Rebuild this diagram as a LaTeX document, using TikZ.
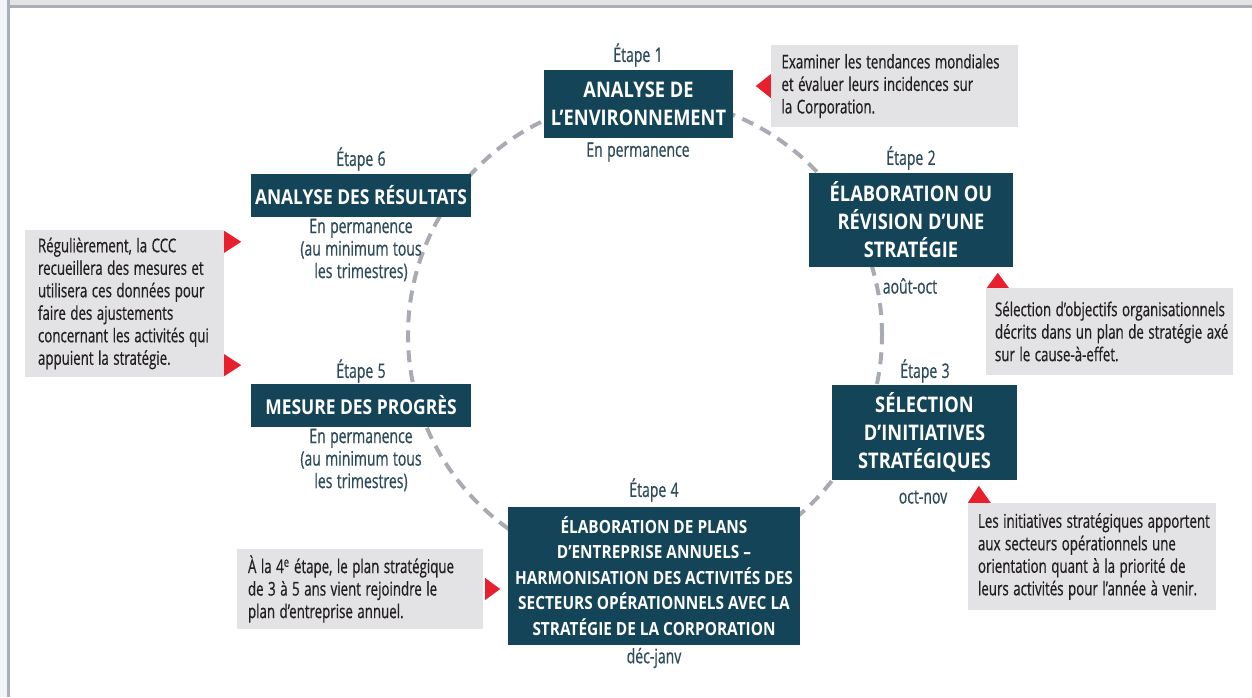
\documentclass[tikz,border=0pt]{standalone}
\usepackage{fontspec}
\setmainfont{Open Sans}[FakeStretch=0.85]
\newfontfamily\notefont{Open Sans}[FakeStretch=0.70, FakeBold=0.6, WordSpace=1.2]
\usetikzlibrary{calc}

\definecolor{boxteal}{HTML}{134458}
\definecolor{labelteal}{HTML}{2D4B5B}
\definecolor{notegray}{HTML}{E3E3E5}
\definecolor{notetext}{HTML}{231F20}
\definecolor{pointred}{HTML}{E8202E}
\definecolor{ringgray}{HTML}{A8ACB2}
\definecolor{bandgray}{HTML}{E2E3E5}
\definecolor{edgegray}{HTML}{A9AFB7}
\definecolor{sidestrip}{HTML}{F1F5FA}

% one unbreakable line of a note, with tighter word spaces
\newcommand\nl[1]{\mbox{\spaceskip=4.5pt\relax #1}}

\tikzset{
  stepbox/.style={fill=boxteal, text=white, inner sep=0pt, align=center,
    font=\bfseries\fontsize{21.5}{28}\selectfont},
  steplabel/.style={text=labelteal, inner sep=0pt, align=center,
    font=\notefont\fontsize{20}{22.5}\selectfont},
  note/.style={fill=notegray, text=notetext, align=left, inner ysep=0pt,
    font=\notefont\fontsize{19}{22.5}\selectfont},
  pointer/.style={fill=pointred},
  ring/.style={draw=ringgray, line width=4pt, dash pattern=on 12pt off 8pt},
}

\begin{document}
\begin{tikzpicture}[x=1pt, y=-1pt]
\useasboundingbox (0,0) rectangle (1252,697);

% page frame
\fill[sidestrip] (0,0) rectangle (7,697);
\fill[edgegray] (7,0) rectangle (10,697);
\fill[bandgray] (10,0) rectangle (1252,5);
\fill[edgegray] (10,5) rectangle (1252,8);

% the planning cycle
\draw[ring] (645,335) circle[radius=237pt];

% step 1
\node[steplabel] (e1) at (638,55) {Étape 1};
\node[stepbox, minimum width=189pt, minimum height=68pt] (s1) at (638.5,104)
  {ANALYSE DE\\L’ENVIRONNEMENT};
\node[steplabel] (d1) at (638,152) {En permanence};

% step 2
\node[steplabel] (e2) at (911,158) {Étape 2};
\node[stepbox, minimum width=204pt, minimum height=94pt] (s2) at (911,220)
  {ÉLABORATION OU\\RÉVISION D’UNE\\STRATÉGIE};
\node[steplabel] (d2) at (910,286) {août-oct};

% step 3
\node[steplabel] (e3) at (925,371) {Étape 3};
\node[stepbox, minimum width=185pt, minimum height=95pt] (s3) at (924.5,432.5)
  {SÉLECTION\\D’INITIATIVES\\STRATÉGIQUES};
\node[steplabel] (d3) at (923,497) {oct-nov};

% step 4
\node[steplabel] (e4) at (654,490) {Étape 4};
\node[stepbox, minimum width=292pt, minimum height=138pt,
  font=\bfseries\fontsize{18.1}{25.5}\selectfont] (s4) at (654,576)
  {ÉLABORATION DE PLANS\\D’ENTREPRISE ANNUELS –\\HARMONISATION DES ACTIVITÉS DES\\SECTEURS OPÉRATIONNELS AVEC LA\\STRATÉGIE DE LA CORPORATION};
\node[steplabel] (d4) at (654,658) {déc-janv};

% step 5
\node[steplabel] (e5) at (361,371) {Étape 5};
\node[stepbox, minimum width=220pt, minimum height=43pt,
  font=\bfseries\fontsize{20.5}{28}\selectfont] (s5) at (361,405.5)
  {MESURE DES PROGRÈS};
\node[steplabel] (d5) at (361,460) {En permanence\\(au minimum tous\\les trimestres)};

% step 6
\node[steplabel] (e6) at (361,159) {Étape 6};
\node[stepbox, minimum width=220pt, minimum height=43pt,
  font=\bfseries\fontsize{20.5}{28}\selectfont] (s6) at (361,195.5)
  {ANALYSE DES RÉSULTATS};
\node[steplabel] (d6) at (361,250) {En permanence\\(au minimum tous\\les trimestres)};

% notes
\node[note, text width=226pt, inner xsep=10.5pt, minimum height=82pt] (c1) at (894.5,86)
  {\nl{Examiner les tendances mondiales}\\\nl{et évaluer leurs incidences sur}\\\nl{la Corporation.}};
\node[note, text width=229pt, inner xsep=9pt, minimum height=87pt] (c2) at (1109.5,331.5)
  {\nl{Sélection d’objectifs organisationnels}\\\nl{décrits dans un plan de stratégie axé}\\\nl{sur le cause-à-effet.}};
\node[note, text width=228pt, inner xsep=10pt, minimum height=107pt] (c3) at (1092,556.5)
  {\nl{Les initiatives stratégiques apportent}\\\nl{aux secteurs opérationnels une}\\\nl{orientation quant à la priorité de}\\\nl{leurs activités pour l’année à venir.}};
\node[note, text width=224pt, inner xsep=11pt, minimum height=80pt] (c4) at (360,589)
  {\nl{À la 4\textsuperscript{e} étape, le plan stratégique}\\\nl{de 3 à 5 ans vient rejoindre le}\\\nl{plan d’entreprise annuel.}};
\node[note, text width=173pt, inner xsep=13pt, minimum height=147pt] (c5) at (124.5,303.5)
  {\nl{Régulièrement, la CCC}\\\nl{recueillera des mesures et}\\\nl{utilisera ces données pour}\\\nl{faire des ajustements}\\\nl{concernant les activités qui}\\\nl{appuient la stratégie.}};

% red pointers
\fill[pointer] ($(c1.west)+(0,-12)$) -- ($(c1.west)+(-15,0)$) -- ($(c1.west)+(0,12)$) -- cycle;
\fill[pointer] ($(c2.north west)+(1,0)$) -- ($(c2.north west)+(12,-15)$) -- ($(c2.north west)+(23,0)$) -- cycle;
\fill[pointer] ($(c3.north west)+(0,0)$) -- ($(c3.north west)+(11,-17)$) -- ($(c3.north west)+(23,0)$) -- cycle;
\fill[pointer] ($(c4.east)+(2,-11)$) -- ($(c4.east)+(17,0)$) -- ($(c4.east)+(2,11)$) -- cycle;
\fill[pointer] ($(c5.north east)+(0,1)$) -- ($(c5.north east)+(17,12)$) -- ($(c5.north east)+(0,23)$) -- cycle;
\fill[pointer] ($(c5.south east)+(0,-1)$) -- ($(c5.south east)+(17,-12)$) -- ($(c5.south east)+(0,-23)$) -- cycle;
\end{tikzpicture}
\end{document}
